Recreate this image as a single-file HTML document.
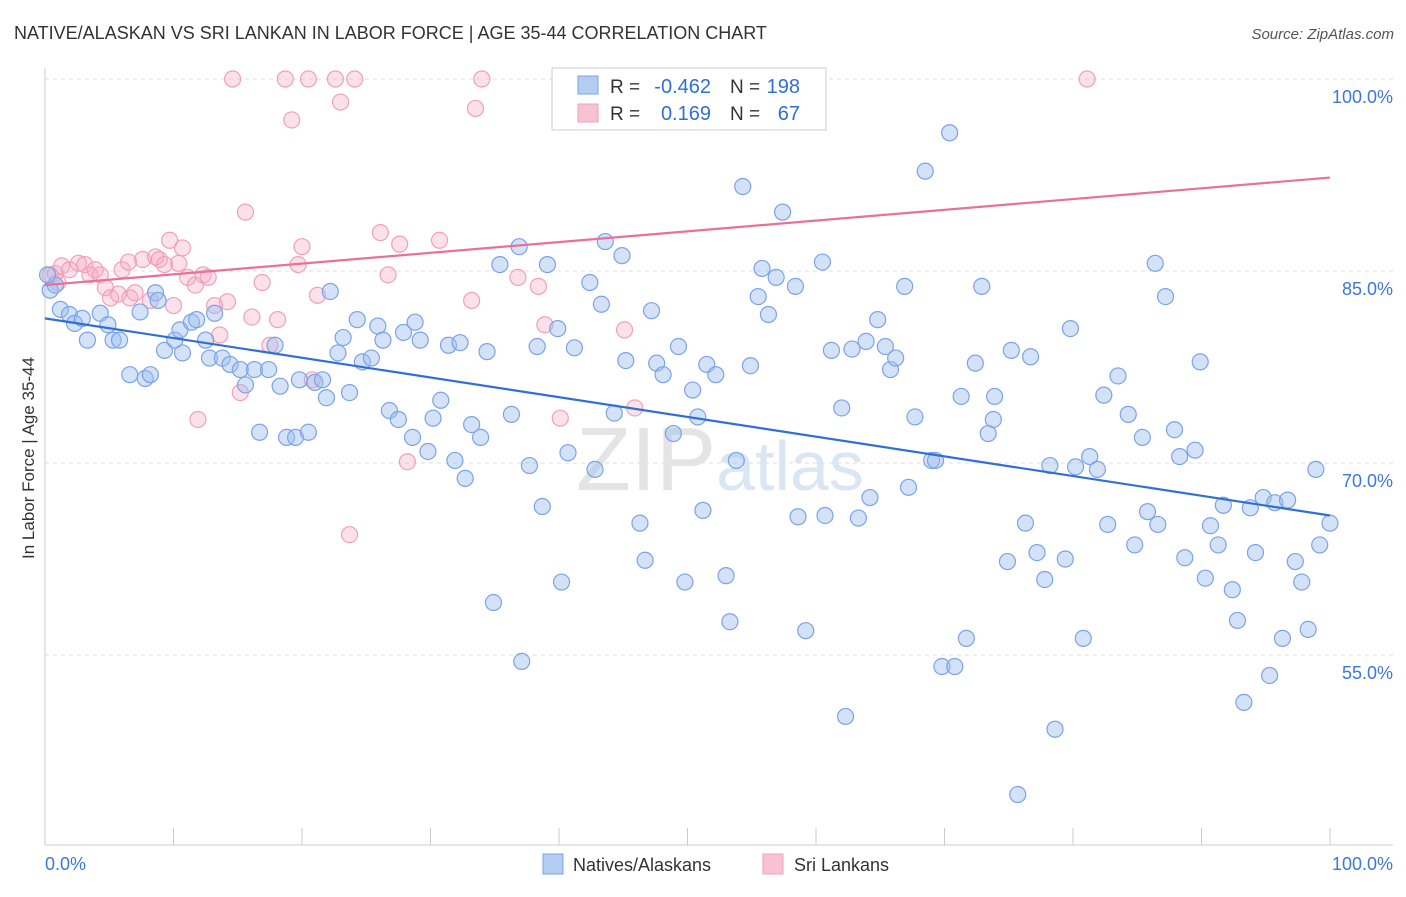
<!DOCTYPE html>
<html><head><meta charset="utf-8">
<style>
body{margin:0;background:#fff;font-family:"Liberation Sans",sans-serif;}
svg text{font-family:"Liberation Sans",sans-serif;}
</style></head>
<body>
<svg id="chart" width="1406" height="892" viewBox="0 0 1406 892" xmlns="http://www.w3.org/2000/svg">
<text x="14" y="39" font-size="18" fill="#333">NATIVE/ALASKAN VS SRI LANKAN IN LABOR FORCE | AGE 35-44 CORRELATION CHART</text>
<text x="1394" y="39" font-size="15" fill="#555" font-style="italic" text-anchor="end">Source: ZipAtlas.com</text>
<g id="grid"></g>
<g id="axes"></g>
<text x="720" y="490" font-size="90" text-anchor="middle" fill="#e4e4e4" font-family="Liberation Serif">ZIP<tspan fill="#dbe6f5" font-family="Liberation Sans" font-size="70">atlas</tspan></text>
<g id="pink-points"></g>
<g id="blue-points"></g>
<g id="lines"></g>
<text transform="translate(34,458) rotate(-90)" font-size="17" fill="#333" text-anchor="middle">In Labor Force | Age 35-44</text>
<g>
<rect x="552" y="68" width="274" height="62" fill="#fff" stroke="#ccc"/>
<rect x="578" y="76" width="20" height="18" fill="#b3cdf2" stroke="#7aa3e8"/>
<rect x="578" y="104" width="20" height="18" fill="#f7c3d3" stroke="#f0a0bb"/>
<text x="610" y="93" font-size="19" fill="#333">R =</text>
<text x="711" y="93" font-size="20" fill="#2f6fd6" text-anchor="end">-0.462</text>
<text x="730" y="93" font-size="19" fill="#333">N =</text>
<text x="800" y="93" font-size="20" fill="#2f6fd6" text-anchor="end">198</text>
<text x="610" y="120" font-size="19" fill="#333">R =</text>
<text x="711" y="120" font-size="20" fill="#2f6fd6" text-anchor="end">0.169</text>
<text x="730" y="120" font-size="19" fill="#333">N =</text>
<text x="800" y="120" font-size="20" fill="#2f6fd6" text-anchor="end">67</text>
</g>
<g>
<rect x="543" y="854" width="20" height="20" fill="#b3cdf2" stroke="#7aa3e8"/>
<text x="573" y="871" font-size="18" fill="#333">Natives/Alaskans</text>
<rect x="763" y="854" width="20" height="20" fill="#f7c3d3" stroke="#f0a0bb"/>
<text x="794" y="871" font-size="18" fill="#333">Sri Lankans</text>
</g>
</svg>
<script>
const yTicks=[100,85,70,55];
const yTickLabels=["100.0%","85.0%","70.0%","55.0%"];
const xTickValues=[0,10,20,30,40,50,60,70,80,90,100];
const blueX=[0.4,0.8,0.2,1.2,1.9,2.3,2.9,3.3,4.3,4.9,5.3,5.8,6.6,7.8,8.2,8.6,7.4,8.8,9.3,10.1,10.5,10.7,11.4,11.8,12.5,12.8,13.2,13.8,14.4,15.2,15.6,16.3,17.4,16.7,17.9,18.3,18.8,19.5,19.8,20.5,21.0,21.6,21.9,22.2,22.8,23.2,23.7,24.3,24.7,25.4,25.9,26.3,26.8,27.5,27.9,28.6,28.8,29.2,29.8,30.2,30.8,31.4,31.9,32.3,32.7,33.2,33.9,34.4,34.9,35.4,36.3,36.9,37.1,37.7,38.3,38.7,39.1,39.9,40.2,40.7,41.2,42.4,42.8,43.3,43.6,44.3,44.9,45.2,46.3,46.7,47.2,47.6,48.1,48.9,49.3,49.8,50.4,50.8,51.2,51.5,52.2,53.0,53.3,53.8,54.3,54.9,55.5,55.8,56.3,56.9,57.4,58.4,58.6,59.2,59.9,60.5,60.7,61.2,62.0,62.3,62.8,63.3,63.9,64.2,64.8,65.4,65.8,66.2,66.9,67.2,67.7,68.5,69.0,69.3,69.8,70.4,70.8,71.3,71.7,72.4,72.9,73.4,73.8,73.9,74.9,75.2,75.7,76.3,76.7,77.2,77.8,78.2,78.6,79.4,79.8,80.2,80.8,81.3,81.9,82.4,82.7,83.5,84.3,84.8,85.4,85.8,86.4,86.6,87.2,87.9,88.3,88.7,89.5,89.9,90.3,90.7,91.3,91.7,92.4,92.8,93.3,93.8,94.2,94.8,95.3,95.7,96.3,96.7,97.3,97.8,98.3,98.9,99.2,100];
const blueY=[83.5,83.9,84.7,82.0,81.6,80.9,81.3,79.6,81.7,80.8,79.6,79.6,76.9,76.6,76.9,83.3,81.8,82.7,78.8,79.6,80.4,78.6,81.0,81.2,79.6,78.2,81.7,78.2,77.7,77.3,76.1,77.3,77.3,72.4,79.2,76.0,72.0,72.0,76.5,72.4,76.3,76.5,75.1,83.4,78.6,79.8,75.5,81.2,77.9,78.2,80.7,79.6,74.1,73.4,80.2,72.0,81.0,79.6,70.9,73.5,74.9,79.2,70.2,79.4,68.8,73.0,72.0,78.7,59.1,85.5,73.8,86.9,54.5,69.8,79.1,66.6,85.5,80.5,60.7,70.8,79.0,84.1,69.5,82.4,87.3,73.9,86.2,78.0,65.3,62.4,81.9,77.8,76.9,72.3,79.1,60.7,75.7,73.6,66.3,77.7,76.9,61.2,57.6,70.2,91.6,77.6,83.0,85.2,81.6,84.5,89.6,83.8,65.8,56.9,100,85.7,65.9,78.8,74.3,50.2,78.9,65.7,79.5,67.3,81.2,79.1,77.3,78.2,83.8,68.1,73.6,92.8,70.2,70.2,54.1,95.8,54.1,75.2,56.3,77.8,83.8,72.3,73.4,75.2,62.3,78.8,44.1,65.3,78.3,63.0,60.9,69.8,49.2,62.5,80.5,69.7,56.3,70.5,69.5,75.3,65.2,76.8,73.8,63.6,72.0,66.2,85.6,65.2,83.0,72.6,70.5,62.6,71.0,77.9,61.0,65.1,63.6,66.7,60.1,57.7,51.3,66.5,63.0,67.3,53.4,66.9,56.3,67.1,62.3,60.7,57.0,69.5,63.6,65.3];
const pinkX=[0.4,0.8,1.0,1.3,1.9,2.6,3.1,3.5,3.9,4.3,4.7,5.1,5.7,6.0,6.5,6.6,7.0,7.6,8.2,8.6,8.9,9.3,9.7,10.0,10.4,10.7,11.1,11.7,11.9,12.3,12.7,13.2,13.6,14.2,14.6,15.2,15.6,16.1,16.9,17.5,18.1,18.7,19.2,19.7,20.0,20.5,20.8,21.2,22.6,23.0,23.7,24.1,26.1,26.7,27.6,28.2,30.7,33.2,33.5,34.0,36.8,38.4,38.9,40.1,45.1,45.9,81.1];
const pinkY=[84.7,84.8,84.1,85.4,85.1,85.6,85.5,84.7,85.1,84.7,83.7,82.9,83.2,85.1,85.7,82.9,83.3,85.9,82.7,86.1,85.9,85.5,87.4,82.3,85.6,86.8,84.5,83.9,73.4,84.7,84.5,82.3,80.0,82.6,100,75.5,89.6,81.4,84.1,79.2,81.2,100,96.8,85.5,86.9,100,76.5,83.1,100,98.2,64.4,100,88.0,84.7,87.1,70.1,87.4,82.7,97.7,100,84.5,83.8,80.8,73.5,80.4,74.3,100];
const blueTrend=[81.3,65.9];
const pinkTrend=[83.9,92.3];

const NS="http://www.w3.org/2000/svg";
const X0=45,X1=1330,Y100=79,PXPER=12.8;
function sx(v){return X0+(X1-X0)*v/100;}
function sy(v){return Y100+(100-v)*PXPER;}
function mk(tag,attrs,parent){const e=document.createElementNS(NS,tag);for(const k in attrs)e.setAttribute(k,attrs[k]);parent.appendChild(e);return e;}

const grid=document.getElementById('grid');
yTicks.forEach((t,i)=>{
  const l=mk('line',{x1:45,x2:1393,y1:sy(t),y2:sy(t),stroke:'#ddd','stroke-dasharray':'4,4'},grid);
  
  
  const tx=mk('text',{x:1393,y:sy(t)+24,'font-size':18,fill:'#3b78d8','text-anchor':'end'},grid);
  tx.textContent=yTickLabels[i];
  
  
});
const axes=document.getElementById('axes');
const la=mk('line',{x1:45,x2:45,y1:68,y2:845,stroke:'#ccc'},axes);


const lb=mk('line',{x1:45,x2:1393,y1:845,y2:845,stroke:'#ccc'},axes);


xTickValues.forEach(v=>{
  const t=mk('line',{x1:sx(v),x2:sx(v),y1:828,y2:845,stroke:'#ccc'},axes);
  
  
});
const xl0=mk('text',{x:45,y:870,'font-size':18,fill:'#3b78d8'},axes);xl0.textContent='0.0%';


const xl1=mk('text',{x:1393,y:870,'font-size':18,fill:'#3b78d8','text-anchor':'end'},axes);xl1.textContent='100.0%';



const pg=document.getElementById('pink-points');
pinkX.forEach((x,i)=>{
  const c=mk('circle',{cx:sx(x),cy:sy(pinkY[i]),r:8,fill:'rgba(245,170,195,0.35)',stroke:'#f0a0bb','stroke-width':1.2},pg);
  
  
});
const bg=document.getElementById('blue-points');
blueX.forEach((x,i)=>{
  const c=mk('circle',{cx:sx(x),cy:sy(blueY[i]),r:8,fill:'rgba(160,190,240,0.45)',stroke:'#7aa3e8','stroke-width':1.2},bg);
  
  
});
const lg=document.getElementById('lines');
const bl=mk('line',{x1:sx(0),y1:sy(blueTrend[0]),x2:sx(100),y2:sy(blueTrend[1]),stroke:'#2f6fd6','stroke-width':2.2},lg);


const pl=mk('line',{x1:sx(0),y1:sy(pinkTrend[0]),x2:sx(100),y2:sy(pinkTrend[1]),stroke:'#e8709a','stroke-width':2.2},lg);


</script>
</body></html>
